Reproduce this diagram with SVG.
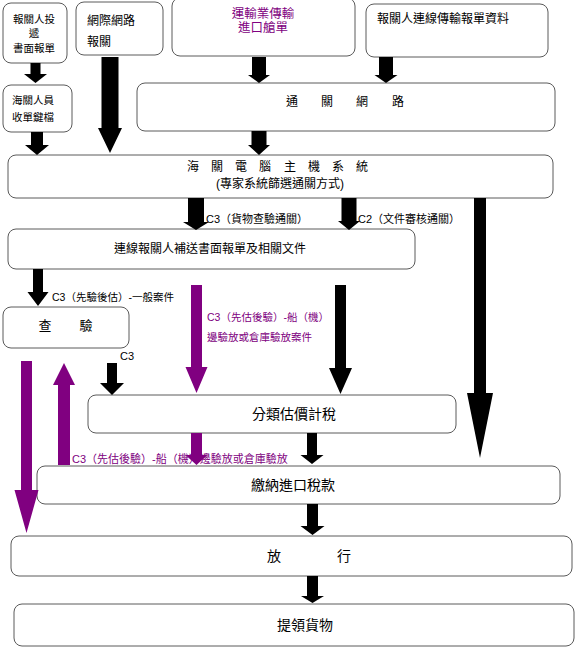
<svg xmlns="http://www.w3.org/2000/svg" width="576" height="647" viewBox="0 0 576 647">
<style>
.box{fill:#fff;stroke:#5a5a5a;stroke-width:1}
text{font-family:"Liberation Sans","Noto Sans CJK TC",sans-serif;fill:#000}
.t12{font-size:12px}
.t105{font-size:10.5px}
.t11{font-size:11px}
.t14{font-size:14px}
.mid{text-anchor:middle}
.pur{fill:#800080}
.ab{fill:#000}
.ap{fill:#800080}
</style>
<rect width="576" height="647" fill="#fff"/>
<g id="n_report_paper">
<rect class="box" x="3" y="3" width="64" height="60" rx="8"/>
<text class="t105 mid" x="34" y="23">報關人投</text>
<text class="t105 mid" x="34" y="37">遞</text>
<text class="t105 mid" x="34" y="52">書面報單</text>
</g>
<g id="n_internet">
<rect class="box" x="76" y="2" width="87" height="53" rx="8"/>
<text class="t12" x="87" y="25">網際網路</text>
<text class="t12" x="87" y="46">報關</text>
</g>
<g id="n_manifest">
<rect class="box" x="172" y="-2" width="183" height="58" rx="8"/>
<text class="mid pur" style="font-size:12.5px" x="263" y="18">運輸業傳輸</text>
<text class="mid pur" style="font-size:12.5px" x="263" y="32">進口艙單</text>
</g>
<g id="n_online_data">
<rect class="box" x="366" y="4" width="182" height="53" rx="8"/>
<text class="t12" x="377" y="23">報關人連線傳輸報單資料</text>
</g>
<g id="n_keyin">
<rect class="box" x="3" y="85" width="69" height="47" rx="8"/>
<text class="t105" x="12" y="104">海關人員</text>
<text class="t105" x="12" y="121">收單鍵檔</text>
</g>
<g id="n_network">
<rect class="box" x="137" y="83" width="418" height="48" rx="8"/>
<text class="t12 mid" x="292 327 362 398" y="106">通關網路</text>
</g>
<g id="n_host">
<rect class="box" x="8" y="155" width="545" height="43" rx="8"/>
<text class="t12 mid" x="193 217 241 265 290 314 338 362" y="171">海關電腦主機系統</text>
<text class="t12 mid" x="280" y="188">(專家系統篩選通關方式)</text>
</g>
<g id="n_supplement">
<rect class="box" x="8" y="229" width="407" height="40" rx="8"/>
<text class="t12 mid" x="210" y="253">連線報關人補送書面報單及相關文件</text>
</g>
<g id="n_inspect">
<rect class="box" x="3" y="307" width="126" height="41" rx="8"/>
<text class="mid" style="font-size:13px" x="45 86" y="330">查驗</text>
</g>
<g id="n_classify">
<rect class="box" x="88" y="395" width="368" height="38" rx="8"/>
<text class="t14 mid" x="294" y="419">分類估價計稅</text>
</g>
<g id="n_pay">
<rect class="box" x="37" y="466" width="523" height="38" rx="8"/>
<text class="t14 mid" x="293" y="490">繳納進口稅款</text>
</g>
<g id="n_release">
<rect class="box" x="11" y="536" width="561" height="40" rx="8"/>
<text class="t14 mid" x="274 344" y="561">放行</text>
</g>
<g id="n_pickup">
<rect class="box" x="14" y="604" width="560" height="42" rx="8"/>
<text class="t14 mid" x="305" y="630">提領貨物</text>
</g>
<g id="connectors">
<text class="t11" x="206" y="223">C3（貨物查驗通關）</text>
<text class="t11" x="358" y="223">C2（文件審核通關）</text>
<text class="t105" x="52" y="301">C3（先驗後估）-一般案件</text>
<text class="t11" x="120" y="360">C3</text>
<text class="t105 pur" x="207" y="321">C3（先估後驗）-船（機）</text>
<text class="t105 pur" x="207" y="341">邊驗放或倉庫驗放案件</text>
<text class="t11 pur" x="72" y="463">C3（先估後驗）-船（機）邊驗放或倉庫驗放</text>
<path class="ab" d="M30.5 63H40.5V74H47L35.5 83L24 74H30.5Z"/>
<path class="ab" d="M31 132H43V145H49L37 155L25 145H31Z"/>
<path class="ab" d="M101.5 57H118.5V128H122L110 153L98 128H101.5Z"/>
<path class="ab" d="M252 57H266V75H270L259 83L248 75H252Z"/>
<path class="ab" d="M379 57H393V75H397.5L386 83L374.5 75H379Z"/>
<path class="ab" d="M251.5 131H266.5V145H270L259 155L248 145H251.5Z"/>
<path class="ab" d="M188 198H204V222H209L196 230L183 222H188Z"/>
<path class="ab" d="M341.5 198H356.5V221H360L349 230L338 221H341.5Z"/>
<path class="ab" d="M474 198H486V393H493L480 458L467 393H474Z"/>
<path class="ab" d="M33 269H43V292H48.5L38 306L27.5 292H33Z"/>
<path class="ab" d="M335 285H346V368H352L340.5 394L329 368H335Z"/>
<path class="ab" d="M107 363H117V383H124L112 395L100 383H107Z"/>
<path class="ab" d="M307 433H317V455H323.5L312 464L300.5 455H307Z"/>
<path class="ab" d="M307 504H318V526H324.5L312.5 535L300.5 526H307Z"/>
<path class="ab" d="M307 576H318V596H324L312.5 603L301 596H307Z"/>
<path class="ap" d="M21 361H32V490H38.5L26.5 533L14.5 490H21Z"/>
<path class="ap" d="M58 465H70V385H75L64 363L53 385H58Z"/>
<path class="ap" d="M191 285H202V367H207.5L196.5 393L185.5 367H191Z"/>
<path class="ap" d="M191 433H202V455H207.5L196.5 465L185.5 455H191Z"/>
</g>
</svg>
